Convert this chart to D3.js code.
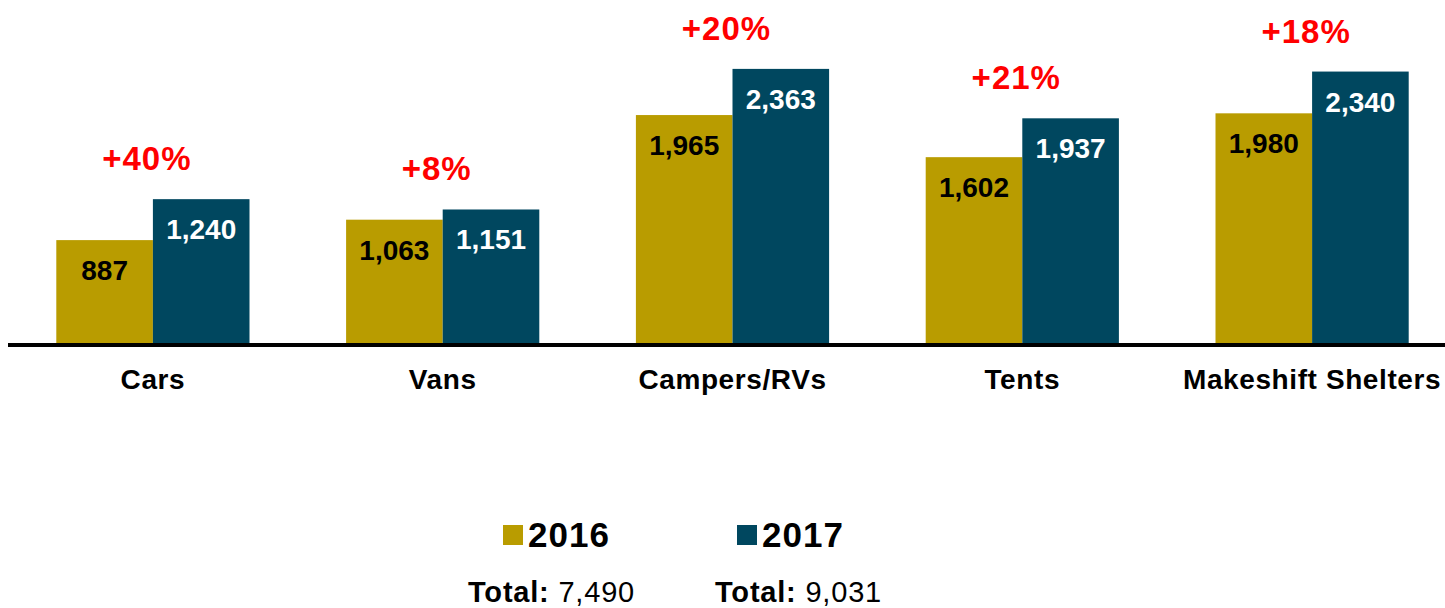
<!DOCTYPE html>
<html>
<head>
<meta charset="utf-8">
<script src="https://cdn.jsdelivr.net/npm/d3@7"></script>
<style>
  body { margin: 0; background: #fff; }
  text { font-family: "Liberation Sans", Arial, sans-serif; }
</style>
</head>
<body>
<div id="chart"></div>
<script>
var categories = ['Cars', 'Vans', 'Campers/RVs', 'Tents', 'Makeshift Shelters'];
var years = ['2016', '2017'];
var values2016 = [887, 1063, 1965, 1602, 1980];
var values2017 = [1240, 1151, 2363, 1937, 2340];
var changeLabels = ['+40%', '+8%', '+20%', '+21%', '+18%'];
var totals = ['7,490', '9,031'];

var colors = {'2016': '#B99C00', '2017': '#00475F'};

var W = 1445, H = 608;
var svg = d3.select('#chart').append('svg')
    .attr('width', W)
    .attr('height', H);

// category band scale, then inner scale for the two years
var x0 = d3.scaleBand().domain(categories)
    .range([8, 1457]).paddingInner(1/3).paddingOuter(1/6);
var x1 = d3.scaleBand().domain(years).range([0, x0.bandwidth()]);

var y = d3.scaleLinear().domain([0, 2500]).range([343, 53]);

var rows = categories.map(function(c, i) {
    return {cat: c, vals: [values2016[i], values2017[i]], change: changeLabels[i]};
});

var groups = svg.selectAll('.grp').data(rows).enter()
    .append('g').attr('class', 'grp')
    .attr('transform', function(d) { return 'translate(' + x0(d.cat) + ',0)'; });

var bars = groups.selectAll('.bar')
    .data(function(d) { return years.map(function(yr, j) { return {year: yr, v: d.vals[j]}; }); })
    .enter().append('g').attr('class', 'bar');

bars.append('rect')
    .attr('x', function(d) { return x1(d.year); })
    .attr('y', function(d) { return y(d.v); })
    .attr('width', x1.bandwidth())
    .attr('height', function(d) { return y(0) - y(d.v); })
    .attr('fill', function(d) { return colors[d.year]; });

// value labels inside the bars
bars.append('text')
    .text(function(d) { return d3.format(',')(d.v); })
    .attr('x', function(d) { return x1(d.year) + x1.bandwidth() / 2; })
    .attr('y', function(d) { return y(d.v) + 40; })
    .attr('text-anchor', 'middle')
    .attr('font-size', 28)
    .attr('font-weight', 'bold')
    .attr('fill', function(d) { return d.year === '2016' ? '#000' : '#fff'; });

// percent change labels above the taller bar
groups.append('text')
    .text(function(d) { return d.change; })
    .attr('x', x0.bandwidth() / 2 - 6)
    .attr('y', function(d) { return y(d3.max(d.vals)) - 29; })
    .attr('text-anchor', 'middle')
    .attr('font-size', 33)
    .attr('letter-spacing', 1)
    .attr('font-weight', 'bold')
    .attr('fill', '#FF0000');

// baseline
svg.append('line')
    .attr('x1', 8).attr('x2', W)
    .attr('y1', y(0) + 2).attr('y2', y(0) + 2)
    .attr('stroke', '#000').attr('stroke-width', 4);

// category labels
svg.selectAll('.cat').data(categories).enter()
    .append('text').attr('class', 'cat')
    .text(function(d) { return d; })
    .attr('x', function(d) { return x0(d) + x0.bandwidth() / 2; })
    .attr('y', 389)
    .attr('text-anchor', 'middle')
    .attr('font-size', 28)
    .attr('letter-spacing', 0.6)
    .attr('font-weight', 'bold')
    .attr('fill', '#000');

// legend with totals
var legendX = [503, 737];
var legend = svg.selectAll('.leg').data(years).enter()
    .append('g').attr('class', 'leg')
    .attr('transform', function(d, i) { return 'translate(' + legendX[i] + ',0)'; });

legend.append('rect')
    .attr('x', 0).attr('y', 525)
    .attr('width', 20).attr('height', 20)
    .attr('fill', function(d) { return colors[d]; });

legend.append('text')
    .text(function(d) { return d; })
    .attr('x', 25).attr('y', 547)
    .attr('font-size', 35)
    .attr('letter-spacing', 1)
    .attr('font-weight', 'bold')
    .attr('fill', '#000');

var tot = legend.append('text')
    .attr('x', function(d, i) { return i === 0 ? -35 : -22; })
    .attr('y', 602)
    .attr('font-size', 29)
    .attr('letter-spacing', 0.8)
    .attr('fill', '#000');
tot.append('tspan').attr('font-weight', 'bold').text('Total:');
tot.append('tspan').text(function(d, i) { return ' ' + totals[i]; });
</script>
</body>
</html>
